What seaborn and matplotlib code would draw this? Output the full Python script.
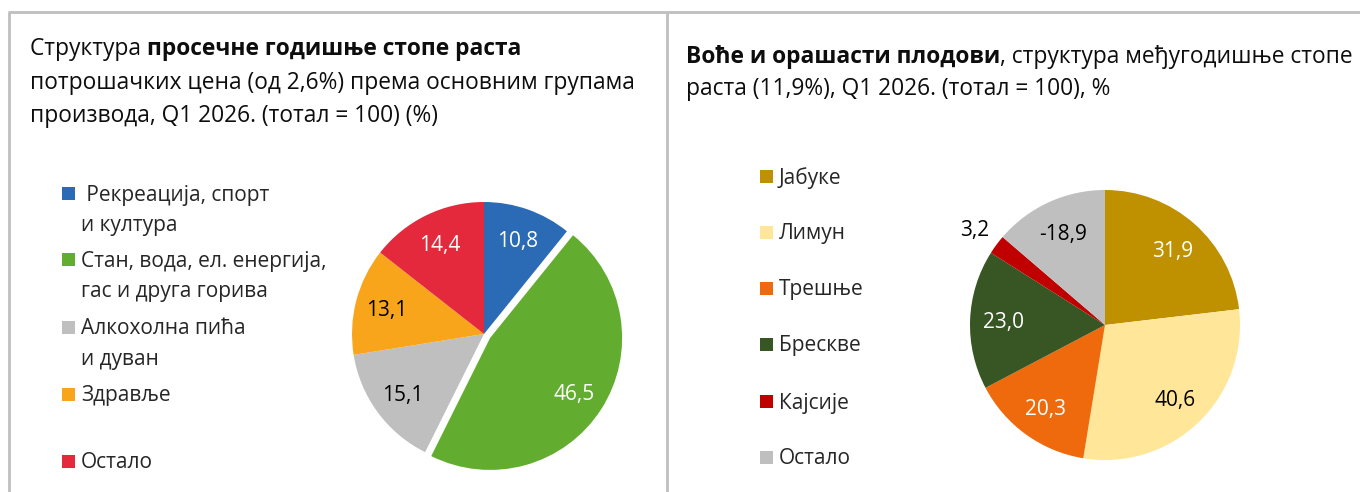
import numpy as np
import matplotlib
matplotlib.use("Agg")
import matplotlib.pyplot as plt
from matplotlib.patches import Rectangle
import seaborn as sns

# ---------------- data ----------------
left_categories = [" Рекреација, спорт\nи култура",
                   "Стан, вода, ел. енергија,\nгас и друга горива",
                   "Алкохолна пића\nи дуван",
                   "Здравље",
                   "Остало"]
left_values = [10.8, 46.5, 15.1, 13.1, 14.4]
left_colors = ["#2B6BB5", "#62AD2F", "#BFBFBF", "#F8A51C", "#E5293D"]
left_label_colors = ["white", "white", "black", "black", "white"]

right_categories = ["Јабуке", "Лимун", "Трешње", "Брескве", "Кајсије", "Остало"]
right_values = [31.9, 40.6, 20.3, 23.0, 3.2, -18.9]
right_colors = ["#BF9000", "#FFE699", "#EE6A0C", "#375623", "#C00000", "#BFBFBF"]
right_label_colors = ["white", "black", "white", "white", "black", "black"]

# ---------------- style ----------------
sns.set_theme(style="white")
plt.rcParams["font.family"] = ["Open Sans", "DejaVu Sans"]
FS_TITLE = 16.4
FS_LEG = 15
FS_LAB = 15
DY = 2  # small visual offset of text centres (px)

W, H = 1360, 492
fig = plt.figure(figsize=(W / 100, H / 100), dpi=100)
fig.patch.set_facecolor("white")

bg = fig.add_axes([0, 0, 1, 1])
bg.set_xlim(0, W)
bg.set_ylim(H, 0)
bg.axis("off")

# frame lines
gray = "#BFBFBF"
bg.plot([8, W], [12, 12], color=gray, lw=2, solid_capstyle="butt")
bg.plot([9, 9], [12, H], color=gray, lw=2, solid_capstyle="butt")
bg.plot([667, 667], [12, H], color=gray, lw=2, solid_capstyle="butt")


def mixed_line(x, y, parts):
    """parts: list of (text, weight)"""
    prev = None
    for txt, wt in parts:
        if prev is None:
            prev = bg.text(x, y + DY, txt, fontsize=FS_TITLE, fontweight=wt, color="#0d0d0d",
                           ha="left", va="center")
        else:
            prev = bg.annotate(txt, xy=(1, 0.5), xycoords=prev, fontsize=FS_TITLE,
                               fontweight=wt, color="#0d0d0d", ha="left", va="center")


# titles
mixed_line(30, 47, [("Структура ", "normal"), ("просечне годишње стопе раста", "bold")])
mixed_line(30, 81, [("потрошачких цена (од 2,6%) према основним групама", "normal")])
mixed_line(30, 114, [("производа, Q1 2026. (тотал = 100) (%)", "normal")])

mixed_line(686, 55, [("Воће и орашасти плодови", "bold"), (", структура међугодишње стопе", "normal")])
mixed_line(686, 87, [("раста (11,9%), Q1 2026. (тотал = 100), %", "normal")])


def pie_axes(cx, cy, r):
    k = 1.3
    ax = fig.add_axes([(cx - k * r) / W, (H - (cy + k * r)) / H, 2 * k * r / W, 2 * k * r / H])
    return ax, k


def fmt(v):
    return f"{v:.1f}".replace(".", ",")


# ---------------- left pie ----------------
rL = 132
axL, k = pie_axes(484, 334, rL)
explodeL = [0, 0.055, 0, 0, 0]
wedgesL, _ = axL.pie(left_values, colors=sns.color_palette(left_colors), startangle=90,
                     counterclock=False, explode=explodeL,
                     wedgeprops=dict(linewidth=0))
axL.set_xlim(-k, k)
axL.set_ylim(-k, k)
axL.axis("off")
for w, v, c in zip(wedgesL, left_values, left_label_colors):
    th = np.deg2rad((w.theta1 + w.theta2) / 2)
    x = w.center[0] + 0.76 * w.r * np.cos(th)
    y = w.center[1] + 0.76 * w.r * np.sin(th) - DY / rL
    axL.text(x, y, fmt(v), ha="center", va="center", fontsize=FS_LAB, color=c)

# ---------------- right pie ----------------
rR = 135
axR, k = pie_axes(1105, 325, rR)
wedgesR, _ = axR.pie(np.abs(right_values), colors=sns.color_palette(right_colors), startangle=90,
                     counterclock=False, wedgeprops=dict(linewidth=0))
axR.set_xlim(-k, k)
axR.set_ylim(-k, k)
axR.axis("off")
for i, (w, v, c) in enumerate(zip(wedgesR, right_values, right_label_colors)):
    th = np.deg2rad((w.theta1 + w.theta2) / 2)
    d = 1.2 if abs(v) < 5 else 0.75
    x = w.center[0] + d * w.r * np.cos(th)
    y = w.center[1] + d * w.r * np.sin(th) - DY / rR
    axR.text(x, y, fmt(v), ha="center", va="center", fontsize=FS_LAB, color=c)

# ---------------- legends ----------------
SQ = 13
LINE = 31
left_leg_y = [193, 259, 327, 394, 461]
for lab, col, y in zip(left_categories, left_colors, left_leg_y):
    bg.add_patch(Rectangle((62, y - SQ / 2), SQ, SQ, facecolor=col, edgecolor="none"))
    for j, part in enumerate(lab.split("\n")):
        bg.text(81, y + j * LINE + DY, part, fontsize=FS_LEG, color="#262626",
                ha="left", va="center")

right_leg_y = [176, 232, 288, 344, 401, 457]
for lab, col, y in zip(right_categories, right_colors, right_leg_y):
    bg.add_patch(Rectangle((760, y - SQ / 2), SQ, SQ, facecolor=col, edgecolor="none"))
    bg.text(779, y + DY, lab, fontsize=FS_LEG, color="#262626", ha="left", va="center")

fig.savefig("out.png", dpi=100, facecolor="white")
